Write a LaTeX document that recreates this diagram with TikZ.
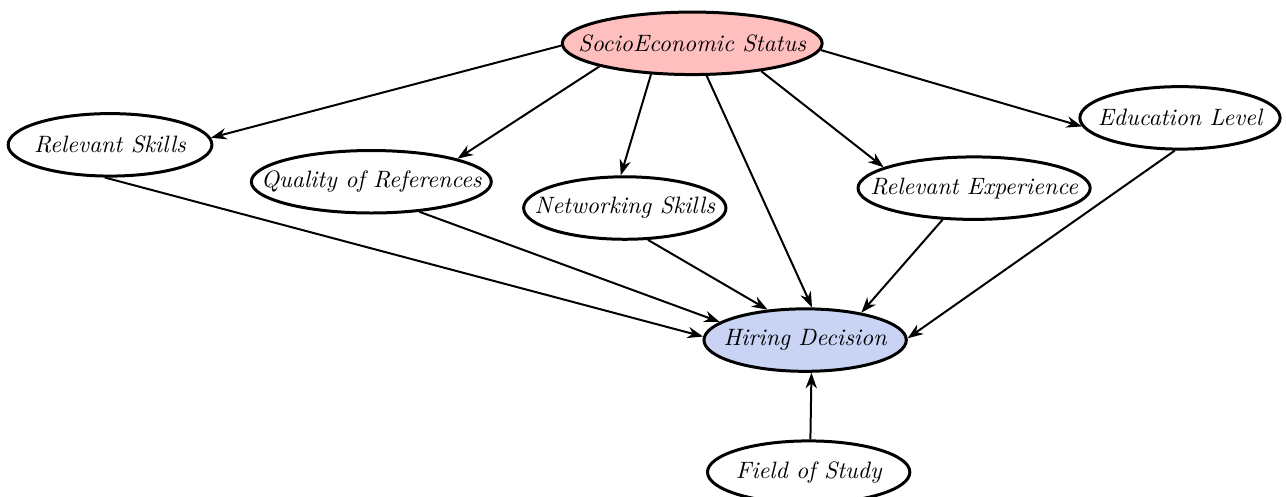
\documentclass[tikz,border=0pt]{standalone}
\usepackage{tikz}
\usetikzlibrary{shapes.geometric,arrows.meta}

\definecolor{hdblue}{RGB}{201,212,245}
\newcommand{\varname}[1]{\makebox[0pt]{\itshape #1}}

\begin{document}
\begin{tikzpicture}[
  var/.style={ellipse,draw,very thick,inner sep=0pt,minimum height=0.88cm,
    font=\fontsize{9.5}{11}\selectfont},
  edge/.style={thick,-{Stealth[length=2.2mm,width=1.6mm]}}]
\useasboundingbox (0,0) rectangle (18.113,-6.986);
% variables
\node[var,fill=red!25,minimum width=3.66cm] (ses) at (9.75,-0.61) {\varname{SocioEconomic Status}};
\node[var,minimum width=2.87cm] (rs) at (1.55,-2.04) {\varname{Relevant Skills}};
\node[var,minimum width=3.38cm] (qr) at (5.23,-2.56) {\varname{Quality of References}};
\node[var,minimum width=2.85cm] (ns) at (8.80,-2.93) {\varname{Networking Skills}};
\node[var,minimum width=3.27cm] (re) at (13.72,-2.65) {\varname{Relevant Experience}};
\node[var,minimum width=2.82cm] (el) at (16.62,-1.66) {\varname{Education Level}};
\node[var,fill=hdblue,minimum width=2.85cm] (hd) at (11.34,-4.79) {\varname{Hiring Decision}};
\node[var,minimum width=2.85cm] (fs) at (11.39,-6.65) {\varname{Field of Study}};
% from socioeconomic status
\draw[edge] (ses.181) -- (rs.4);
\draw[edge] (ses.194) -- (qr.15);
\draw[edge] (ses.217) -- (ns.97);
\draw[edge] (ses.-66) -- (hd.78);
\draw[edge] (ses.-22) -- (re.167);
\draw[edge] (ses.-3) -- (el.185);
% into hiring decision
\draw[edge] (rs.261) -- (hd.178);
\draw[edge] (qr.-32) -- (hd.168);
\draw[edge] (ns.-54) -- (hd.141);
\draw[edge] (re.225) -- (hd.26);
\draw[edge] (el.261) -- (hd.1);
\draw[edge] (fs.87) -- (hd.-79);
\end{tikzpicture}
\end{document}
